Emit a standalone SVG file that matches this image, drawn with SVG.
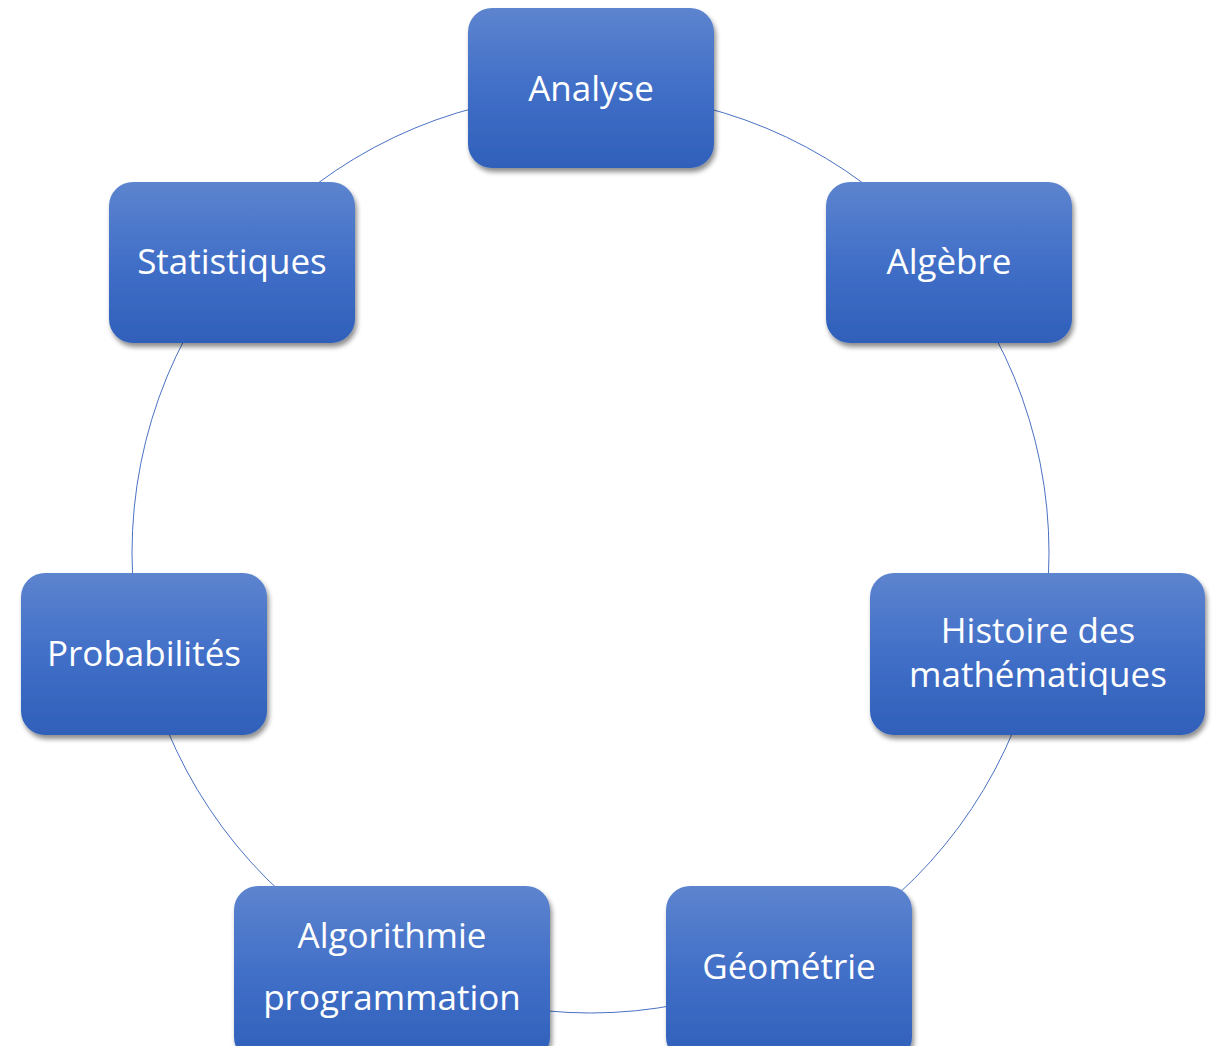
<svg xmlns="http://www.w3.org/2000/svg" width="1216" height="1046" viewBox="0 0 1216 1046">
<defs>
<linearGradient id="g" x1="0" y1="0" x2="0" y2="1">
<stop offset="0" stop-color="#5d84ce"/>
<stop offset="0.5" stop-color="#416fc8"/>
<stop offset="1" stop-color="#2f60b9"/>
</linearGradient>
<filter id="sh" x="-10%" y="-10%" width="125%" height="130%">
<feGaussianBlur in="SourceAlpha" stdDeviation="2.5"/>
<feOffset dx="2" dy="4" result="b"/>
<feComponentTransfer><feFuncA type="linear" slope="0.45"/></feComponentTransfer>
<feMerge><feMergeNode/><feMergeNode in="SourceGraphic"/></feMerge>
</filter>
</defs>
<style>
.box{fill:url(#g);filter:url(#sh)}
.t{font-family:"Open Sans","Noto Sans",sans-serif;font-size:35px;fill:#fff;text-anchor:middle}
</style>
<rect width="1216" height="1046" fill="#fff"/>
<g id="connectors">
<ellipse cx="590.5" cy="553" rx="458.5" ry="460" fill="none" stroke="#4a72c4" stroke-width="1"/>
</g>
<g id="analyse"><rect class="box" x="468" y="8" width="246" height="160" rx="24"/><text class="t" x="591" y="101">Analyse</text></g>
<g id="algebre"><rect class="box" x="826" y="182" width="246" height="161" rx="24"/><text class="t" x="949" y="274">Algèbre</text></g>
<g id="histoire"><rect class="box" x="870" y="573" width="335" height="162" rx="24"/><text class="t" x="1038" y="643">Histoire des</text><text class="t" x="1038" y="687">mathématiques</text></g>
<g id="geometrie"><rect class="box" x="666" y="886" width="246" height="175" rx="24"/><text class="t" x="789" y="979">Géométrie</text></g>
<g id="algorithmie"><rect class="box" x="234" y="886" width="316" height="175" rx="24"/><text class="t" x="392" y="948">Algorithmie</text><text class="t" x="392" y="1010">programmation</text></g>
<g id="probabilites"><rect class="box" x="21" y="573" width="246" height="162" rx="24"/><text class="t" x="144" y="666">Probabilités</text></g>
<g id="statistiques"><rect class="box" x="109" y="182" width="246" height="161" rx="24"/><text class="t" x="232" y="274">Statistiques</text></g>
</svg>
